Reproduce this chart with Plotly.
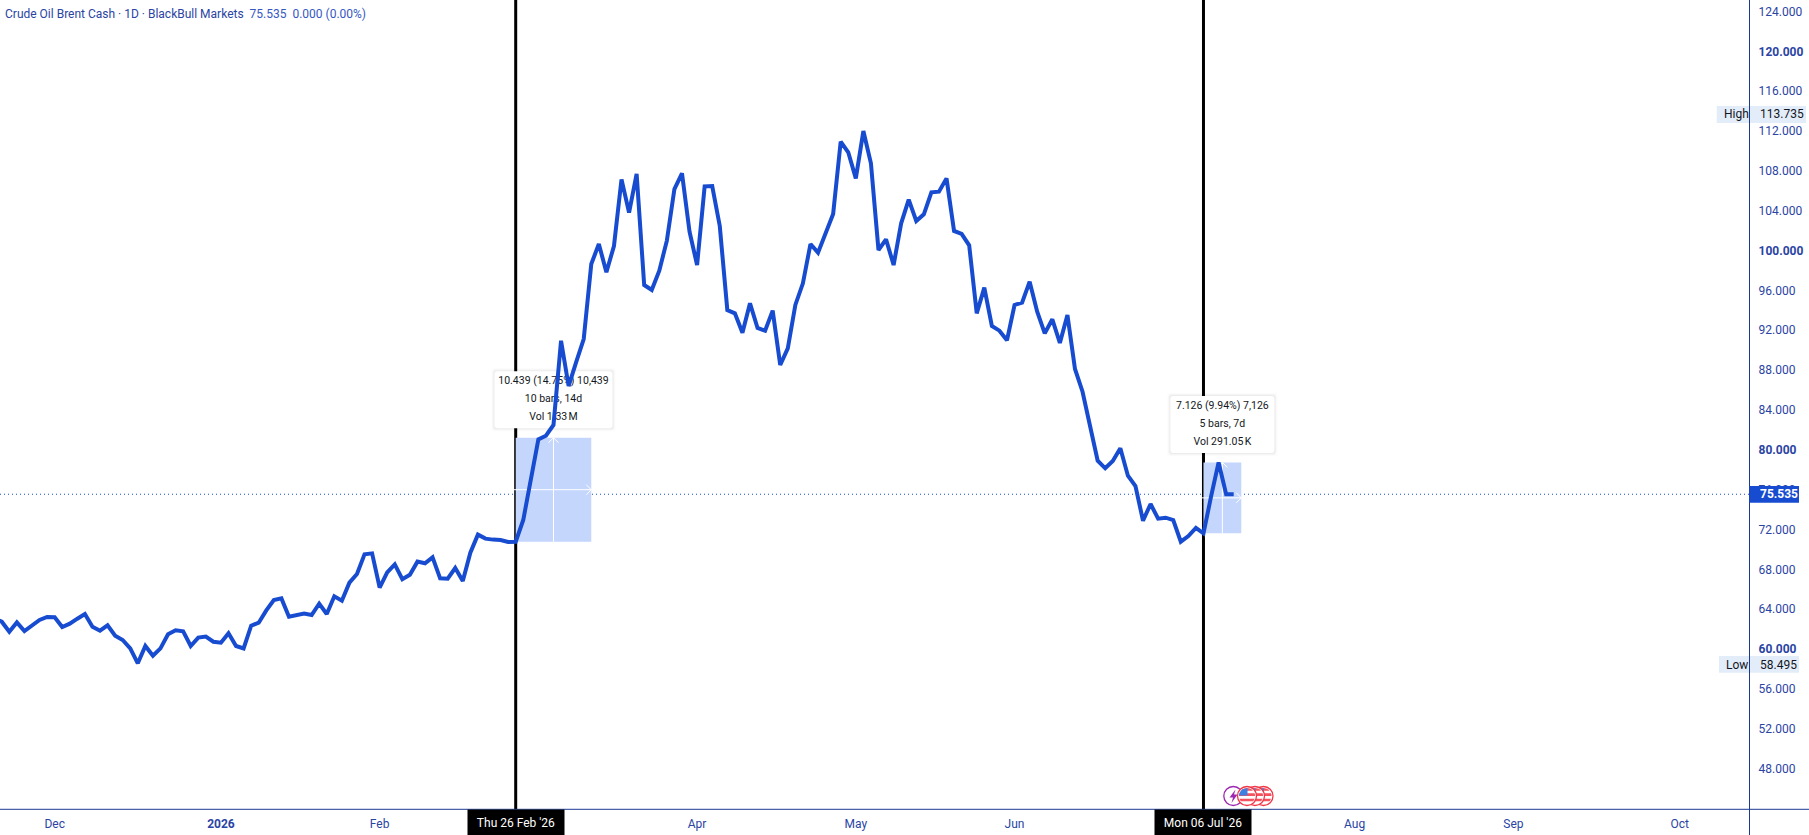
import math
import plotly.graph_objects as go

# Daily closes of Brent cash; bar 0 is Thu 26 Feb 2026, earlier bars are negative.
closes_before_feb26 = [
    63.1, 62.74, 61.74, 62.67, 61.80, 62.34, 62.91, 63.21, 63.18, 62.21, 62.54, 63.04, 63.51,
    62.24, 61.84, 62.37, 61.33, 60.90, 60.06, 58.56, 60.30, 59.33, 60.06, 61.47, 61.87,
    61.77, 60.30, 61.14, 61.24, 60.73, 60.63, 61.57, 60.30, 60.06, 62.34, 62.64, 63.88,
    64.92, 65.08, 63.24, 63.38, 63.55, 63.41, 64.55, 63.51, 65.29, 64.85, 66.66, 67.53,
    69.50, 69.60, 66.16, 67.70, 68.50, 67.00, 67.46, 68.77, 68.60, 69.20, 67.09, 67.06,
    68.13, 66.83, 69.67, 71.48, 71.08, 70.98, 70.94, 70.74,
]
closes_from_feb26 = [
    70.771, 72.95, 77.00, 81.05, 81.41, 82.49, 90.95, 86.40, 88.80, 91.12,
    98.65, 100.66, 97.82, 100.46, 107.15, 103.81, 107.69, 96.54, 96.04, 97.98,
    101.00, 106.18, 107.76, 101.90, 98.55, 106.45, 106.48, 102.47, 94.03, 93.70,
    91.76, 94.70, 92.23, 91.96, 93.97, 88.51, 90.18, 94.54, 96.71, 100.66,
    99.79, 101.73, 103.67, 110.94, 109.87, 107.25, 112.00, 108.76, 100.06, 101.13,
    98.55, 102.74, 105.11, 102.97, 103.64, 105.85, 105.92, 107.25, 101.97, 101.67,
    100.53, 93.70, 96.28, 92.43, 91.96, 90.99, 94.54, 94.77, 96.88, 93.87,
    91.69, 93.10, 90.72, 93.53, 88.11, 85.83, 82.32, 78.91, 78.14, 78.87,
    80.15, 77.40, 76.36, 72.88, 74.56, 73.08, 73.18, 72.95, 70.77, 71.34,
    72.15, 71.609, 75.29, 78.735, 75.535, 75.535,
]
closes = closes_before_feb26 + closes_from_feb26
bars = list(range(-len(closes_before_feb26), len(closes_from_feb26)))

month_bars = [-61, -39, -18, 24, 45, 66, 111, 132, 154]
month_labels = ["Dec", "<b>2026</b>", "Feb", "Apr", "May", "Jun", "Aug", "Sep", "Oct"]
price_ticks = list(range(48, 125, 4))

last_price = 75.535
session_high = 113.735
session_low = 58.495

# Bars carrying a vertical marker and their date captions.
marker_bars = [0, 91]
marker_labels = ["Thu 26 Feb '26", "Mon 06 Jul '26"]

# Price-range measurements: start bar, bar count, base price, top price, caption lines.
measures = [
    (0, 10, 70.771, 81.21, ["10.439 (14.75%) 10,439", "10 bars, 14d", "Vol 1.33\u202fM"]),
    (91, 5, 71.609, 78.735, ["7.126 (9.94%) 7,126", "5 bars, 7d", "Vol 291.05\u202fK"]),
]

W, H = 1809, 835
AXIS_X, AXIS_Y = 1749.5, 809.3
BAR_PX = 7.558
FEB26_PX = 515.7
UNIT_PX = 9.96
Y48_PX = 768.5

FONT = "Roboto"
LINE_BLUE = "#174bd0"
AXIS_NAVY = "#1c3a94"
TEXT_NAVY = "#2a44a4"
INK = "#131722"
BOX_BLUE = "#c5d6fd"
CHIP_BLUE = "#e3edfa"

x_range = [-FEB26_PX / BAR_PX, (AXIS_X - FEB26_PX) / BAR_PX]
y_range = [48 + (Y48_PX - AXIS_Y) / UNIT_PX, 48 + Y48_PX / UNIT_PX]


def px(x):
    return x / W


def py(y):
    return 1 - y / H


def rounded(x0, y0, x1, y1, r):
    """Rounded-rectangle path, in whatever units the shape is sized in."""
    return (
        f"M {x0 + r},{y0} L {x1 - r},{y0} Q {x1},{y0} {x1},{y0 + r} "
        f"L {x1},{y1 - r} Q {x1},{y1} {x1 - r},{y1} L {x0 + r},{y1} "
        f"Q {x0},{y1} {x0},{y1 - r} L {x0},{y0 + r} Q {x0},{y0} {x0 + r},{y0} Z"
    )


shapes = []
annotations = []
traces = []


def paper_rect(x0, y0, x1, y1, fill, layer="above"):
    shapes.append(dict(type="rect", xref="paper", yref="paper", x0=px(x0), x1=px(x1),
                       y0=py(y1), y1=py(y0), fillcolor=fill, line_width=0, layer=layer))


def paper_line(x0, y0, x1, y1, color, width):
    shapes.append(dict(type="line", xref="paper", yref="paper", x0=px(x0), x1=px(x1),
                       y0=py(y0), y1=py(y1), line=dict(color=color, width=width), layer="above"))


def label(x, y, text, color, size=12, xanchor="left"):
    annotations.append(dict(xref="paper", yref="paper", x=px(x), y=py(y), text=text, showarrow=False,
                            xanchor=xanchor, yanchor="middle", font=dict(family=FONT, size=size, color=color)))


# Last-price dotted guide.
shapes.append(dict(type="line", xref="paper", yref="y", x0=0, x1=px(AXIS_X), y0=last_price, y1=last_price,
                   line=dict(color=LINE_BLUE, width=1, dash="1px,3px"), layer="below"))

# Measurement boxes sit under the vertical markers, tooltips above both.
for start, count, base, top, _ in measures:
    shapes.append(dict(type="rect", xref="x", yref="y", x0=start, x1=start + count, y0=base, y1=top,
                       fillcolor=BOX_BLUE, line_width=0, layer="below"))

for bar in marker_bars:
    shapes.append(dict(type="line", xref="x", yref="paper", x0=bar, x1=bar, y0=py(AXIS_Y), y1=1,
                       line=dict(color="black", width=3), layer="below"))

for start, count, base, top, lines in measures:
    mid_bar = start + count / 2
    mid_price = (base + top) / 2
    half_w = 59 if count == 10 else 52
    for grow, fill in ((3, "rgba(0,0,0,0.015)"), (2, "rgba(0,0,0,0.025)"), (1, "rgba(0,0,0,0.035)"), (0, "white")):
        shapes.append(dict(type="path", xref="x", yref="y", xsizemode="pixel", ysizemode="pixel",
                           xanchor=mid_bar, yanchor=top,
                           path=rounded(-half_w - grow, 9.5 - grow, half_w + grow, 66.5 + grow, 3),
                           fillcolor=fill, line_width=0, layer="below"))

    # White crosshair with chevrons pointing up and to the right.
    chev_x, chev_y = 5 / BAR_PX, 5 / UNIT_PX
    end = start + count
    traces.append(go.Scatter(
        x=[start - 0.3, end, None, mid_bar, mid_bar, None,
           end - chev_x, end, end - chev_x, None,
           mid_bar - chev_x, mid_bar, mid_bar + chev_x],
        y=[mid_price, mid_price, None, base, top, None,
           mid_price + chev_y, mid_price, mid_price - chev_y, None,
           top - chev_y, top, top - chev_y],
        mode="lines", line=dict(color="white", width=1), hoverinfo="skip"))

    # Caption text goes in as a trace so the price line passes over it.
    traces.append(go.Scatter(
        x=[mid_bar] * 3,
        y=[top + offset / UNIT_PX for offset in (56, 38, 20)],
        text=lines, mode="text", textposition="middle center",
        textfont=dict(family=FONT, size=10.5, color=INK), hoverinfo="skip"))

traces.append(go.Scatter(x=bars, y=closes, mode="lines",
                         line=dict(color=LINE_BLUE, width=4, shape="linear"), hoverinfo="skip"))

# Axis frame runs to the page edges.
paper_line(0, AXIS_Y, W, AXIS_Y, AXIS_NAVY, 1)
paper_line(AXIS_X, 0, AXIS_X, H, AXIS_NAVY, 1)

# Date captions on the time axis.
for bar, text in zip(marker_bars, marker_labels):
    annotations.append(dict(xref="x", yref="paper", x=bar, y=py(AXIS_Y), yanchor="top", xanchor="center",
                            text=text, showarrow=False, bgcolor="black", width=94, height=23,
                            font=dict(family=FONT, size=12, color="white")))

# High / low chips and last-price tag over the price scale.
paper_rect(1716.7, 106, 1806, 123, CHIP_BLUE)
label(1721.5, 114.5, "High", INK)
label(1758.3, 114.5, f"{session_high:.3f}", INK)
paper_rect(1719, 656, 1799, 672.7, CHIP_BLUE)
label(1723.5, 664.5, "Low", INK)
label(1758.3, 664.5, f"{session_low:.3f}", INK)
paper_line(AXIS_X, 100, AXIS_X, 680, AXIS_NAVY, 1)
paper_rect(AXIS_X, 486, 1799, 502.7, LINE_BLUE)
label(1758.3, 494.3, f"<b>{last_price:.3f}</b>", "white")

# Symbol header.
label(3, 14, "Crude Oil Brent Cash · 1D · BlackBull Markets  "
             f"<span style='color:#3557c4'>{last_price:.3f}  0.000 (0.00%)</span>", "#2a44a4", size=12)


# Event badges near the time axis: one purple bolt, three US flags.
def circle(cx, cy, r, fill, edge, width):
    shapes.append(dict(type="circle", xref="paper", yref="paper", x0=px(cx - r), x1=px(cx + r),
                       y0=py(cy + r), y1=py(cy - r), fillcolor=fill,
                       line=dict(color=edge, width=width), layer="above"))


def chord_band(cx, cy, r, y0, y1, fill, x_max=None):
    pts = []
    steps = 6
    ys = [y0 + (y1 - y0) * i / steps for i in range(steps + 1)]
    half = [math.sqrt(max(r * r - (y - cy) ** 2, 0)) for y in ys]
    for y, h in zip(ys, half):
        x = cx + h if x_max is None else min(cx + h, x_max)
        pts.append((x, y))
    for y, h in zip(reversed(ys), reversed(half)):
        pts.append((cx - h, y))
    path = "M " + " L ".join(f"{px(a)},{py(b)}" for a, b in pts) + " Z"
    shapes.append(dict(type="path", xref="paper", yref="paper", path=path, fillcolor=fill,
                       line_width=0, layer="above"))


BADGE_Y = 796
circle(1233.3, BADGE_Y, 9.5, "white", "#9c27b0", 1.3)
shapes.append(dict(type="path", xref="paper", yref="paper", fillcolor="#9c27b0", line_width=0, layer="above",
                   path="M " + " L ".join(f"{px(a)},{py(b)}" for a, b in
                                          [(1235.5, 789.5), (1229.5, 797.5), (1233, 797.5), (1231.5, 803),
                                           (1237.5, 794.5), (1234, 794.5)]) + " Z"))
for cx in (1263.5, 1255, 1247):
    r = 9.5
    circle(cx, BADGE_Y, r, "white", "#f23645", 1.3)
    inner = r - 1.5
    band = inner * 2 / 6
    for i in range(0, 6, 2):
        top_edge = BADGE_Y - inner + i * band
        chord_band(cx, BADGE_Y, inner, top_edge, top_edge + band, "#f5525f")
    chord_band(cx, BADGE_Y, inner, BADGE_Y - inner, BADGE_Y - 0.5, "#3f7fe0", x_max=cx + 0.5)

fig = go.Figure(traces)
fig.update_layout(
    width=W, height=H, margin=dict(l=0, r=0, t=0, b=0, pad=0),
    paper_bgcolor="white", plot_bgcolor="white", showlegend=False, hovermode=False,
    shapes=shapes, annotations=annotations,
    font=dict(family=FONT, size=12, color=TEXT_NAVY),
    xaxis=dict(domain=[0, AXIS_X / W], range=x_range, showgrid=False, zeroline=False, showline=False,
               tickmode="array", tickvals=month_bars, ticktext=month_labels, ticks="",
               ticklabelstandoff=6, tickfont=dict(family=FONT, size=12, color=TEXT_NAVY)),
    yaxis=dict(domain=[1 - AXIS_Y / H, 1], range=y_range, side="right", showgrid=False, zeroline=False,
               showline=False, tickmode="array", tickvals=price_ticks,
               ticktext=[f"<b>{v:.3f}</b>" if v % 20 == 0 else f"{v:.3f}" for v in price_ticks],
               ticks="", ticklabelstandoff=8, tickfont=dict(family=FONT, size=12, color=TEXT_NAVY)),
)
fig.write_html("out.html", config=dict(displayModeBar=False))
